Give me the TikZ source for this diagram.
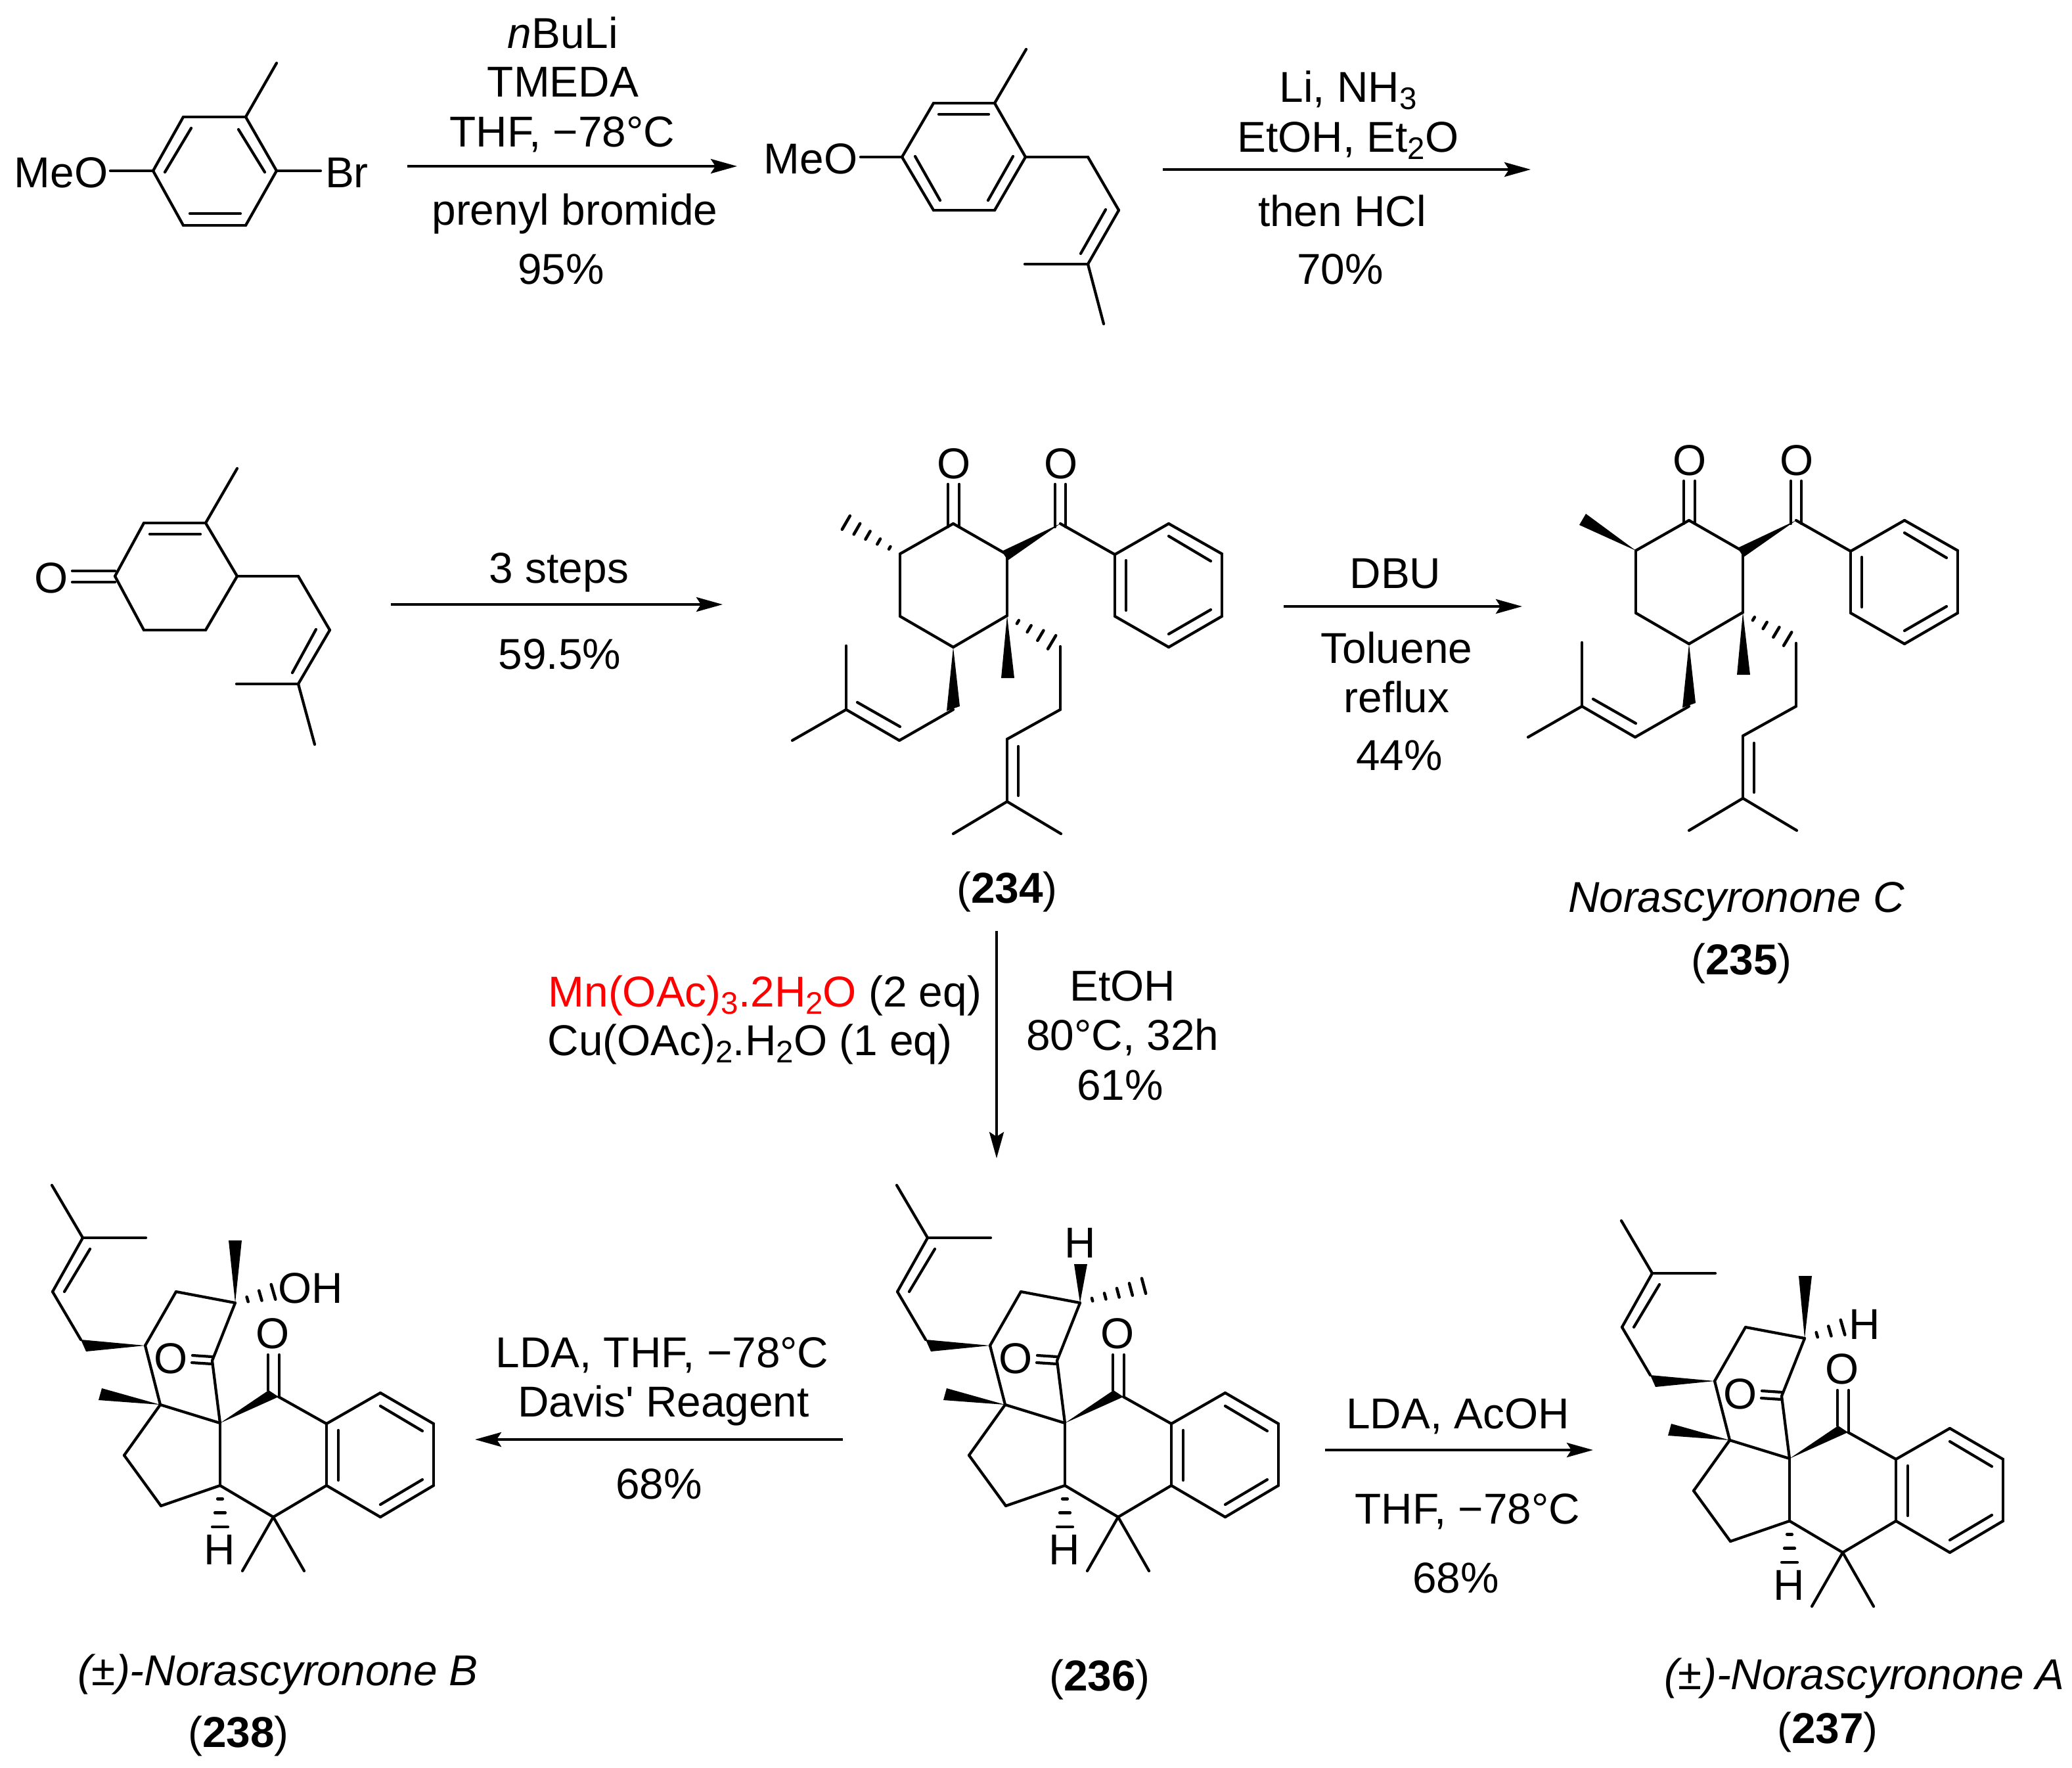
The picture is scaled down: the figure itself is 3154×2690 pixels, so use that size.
\documentclass[tikz,border=0pt]{standalone}
\usepackage{fontspec}
\setmainfont{Liberation Sans}
\newfontfamily\plainfont{Liberation Sans}
\usetikzlibrary{arrows.meta,calc}

\tikzset{
  mytext/.style={anchor=base,inner sep=0pt,font=\fontsize{18.7}{22}\selectfont},
  mybond/.style={line width=1.2pt,line cap=round},
  mybar/.style={line width=1.3pt,line cap=round},
  myarrow/.style={line width=1.15pt,-{Stealth[length=0.4cm,width=0.22cm,inset=0.07cm]}}
}
\newcommand{\subs}[1]{\raisebox{-0.32ex}{\fontsize{13.5}{13.5}\selectfont #1}}
\newcommand{\atoms}[1]{\foreach \nm/\pos in {#1} {\coordinate (\nm) at (\pos);}}
\newcommand{\bonds}[1]{\foreach \from/\to in {#1} {\draw[mybond] (\from) -- (\to);}}
\newcommand{\solidwedge}[3]{\fill (#1) -- (#2) -- (#3) -- cycle;}
\newcommand{\hashbond}[3]{\foreach \i in {1,...,#3} {
    \pgfmathsetmacro{\hpos}{(\i-0.05)/#3}
    \pgfmathsetmacro{\hw}{0.12*\hpos}
    \draw[mybar] ($(#1)!\hpos!(#2)!\hw cm!90:(#2)$) -- ($(#1)!\hpos!(#2)!\hw cm!-90:(#2)$);}}

\newcommand{\benzoylring}[1]{
  \atoms{c1/{1451,797},c2/{1533,844},c3/{1533,937},c4/{1451,985},c5/{1370,938},c6/{1370,843},
    co/{1614,797},p1/{1697,844},p2/{1779,797},p3/{1860,843},p4/{1860,938},p5/{1779,985},p6/{1697,938},
    oa/{1443,737},ob/{1443,802},oc/{1460,737},od/{1460,802},
    oe/{1606,737},of/{1606,802},og/{1622,737},oh/{1622,802},
    pa/{1779,816},pb/{1843,854},pc/{1714,853},pd/{1714,929},pe/{1779,965},pf/{1843,928},
    wa/{1525,839},wb/{1534,853},wc/{1524,1032},wd/{1544,1032},we/{1441,1082},wf/{1461,1075},
    d1/{1451,1080},d2/{1369,1127},d3/{1288,1080},d4/{1288,983},d5/{1206,1127},da/{1370,1106},db/{1305,1069},
    e0/{1614,984},e1/{1614,1080},e2/{1533,1125},e3/{1533,1220},e4/{1451,1269},e5/{1615,1269},ea/{1550,1136},eb/{1550,1211},
    hc/{1602,978}}
  \bonds{c1/c2,c2/c3,c3/c4,c4/c5,c5/c6,c6/c1,co/p1,p1/p2,p2/p3,p3/p4,p4/p5,p5/p6,p6/p1,
    oa/ob,oc/od,oe/of,og/oh,pa/pb,pc/pd,pe/pf,
    d1/d2,d2/d3,d3/d4,d3/d5,da/db,e0/e1,e1/e2,e2/e3,e3/e4,e3/e5,ea/eb}
  \solidwedge{co}{wa}{wb}
  \solidwedge{c3}{wc}{wd}
  \solidwedge{c4}{we}{wf}
  \hashbond{c3}{hc}{4}
  \node[mytext] (#1oa) at (1452,728) {O};
  \node[mytext] (#1ob) at (1615,728) {O};
}

\newcommand{\spirocore}[1]{
  \atoms{ma/{1365,1804},mb/{1412,1884},mc/{1508,1884},md/{1366,1966},me/{1409,2039},
    ia/{1423,1901},ib/{1384,1966},
    a/{1507,2048},b/{1554,1966},c/{1644,1983},d/{1609,2071},s/{1621,2166},f/{1530,2138},
    g/{1475,2215},h/{1531,2292},i/{1621,2261},k/{1710,2126},l/{1783,2167},m/{1783,2261},n/{1702,2309},
    na/{1655,2391},nb/{1749,2391},
    q1/{1865,2120},q2/{1946,2167},q3/{1946,2261},q4/{1865,2309},
    qa/{1801,2177},qb/{1801,2253},qc/{1865,2140},qd/{1929,2178},qe/{1865,2290},qf/{1929,2252},
    oa/{1579,2063},ob/{1609,2065},oc/{1578,2074},od/{1609,2076},
    oe/{1694,2062},of/{1694,2116},og/{1711,2062},oh/{1711,2126},
    wa/{1417,2057},wb/{1441,2113},wc/{1436,2131},wd/{1695,2116},hi/{1621,2325}}
  \bonds{ma/mb,mb/mc,mb/md,md/me,ia/ib,a/b,b/c,c/d,d/s,f/s,a/f,f/g,g/h,h/i,i/s,
    k/l,l/m,m/n,n/i,n/na,n/nb,l/q1,q1/q2,q2/q3,q3/q4,q4/m,qa/qb,qc/qd,qe/qf,oa/ob,oc/od,oe/of,og/oh}
  \solidwedge{a}{me}{wa}
  \solidwedge{f}{wb}{wc}
  \solidwedge{s}{wd}{k}
  \hashbond{i}{hi}{3}
  \node[mytext] (#1oa) at (1546,2090) {O};
  \node[mytext] (#1ob) at (1701,2052) {O};
  \node[mytext] (#1h) at (1620,2381) {H};
}

\begin{document}
\begin{tikzpicture}[x=0.01cm,y=-0.01cm]
\useasboundingbox (0,0) rectangle (3154,2690);

\atoms{b1/{233,260},b2/{279,178},b3/{374,178},b4/{421,260},b5/{374,343},b6/{279,343},
  b7/{421,96},b8/{168,260},b9/{488,260},
  ba/{251,262},bb/{291,195},bc/{363,197},bd/{403,262},be/{289,325},bf/{366,325}}
\bonds{b1/b2,b2/b3,b3/b4,b4/b5,b5/b6,b6/b1,b3/b7,b1/b8,b4/b9,ba/bb,bc/bd,be/bf}
\node[mytext] (meo1) at (93,285) {MeO};
\node[mytext] (br1) at (528,285) {Br};

\atoms{t1/{1373,239},t2/{1421,157},t3/{1514,157},t4/{1561,239},t5/{1514,320},t6/{1421,320},
  t7/{1562,75},t8/{1310,239},t9/{1656,239},t10/{1703,320},t11/{1656,402},t12/{1560,402},t13/{1680,493},
  ta/{1429,174},tb/{1505,174},tc/{1393,238},td/{1431,305},te/{1542,238},tf/{1504,305},tg/{1683,319},th/{1645,386}}
\bonds{t1/t2,t2/t3,t3/t4,t4/t5,t5/t6,t6/t1,t3/t7,t1/t8,t4/t9,t9/t10,t10/t11,t11/t12,t11/t13,ta/tb,tc/td,te/tf,tg/th}
\node[mytext] (meo2) at (1234,264) {MeO};

\atoms{u1/{175,877},u2/{219,796},u3/{313,796},u4/{361,877},u5/{313,959},u6/{219,959},
  u7/{361,713},u8/{454,877},u9/{502,959},u10/{454,1041},u11/{360,1041},u12/{479,1133},
  ua/{228,813},ub/{305,813},uc/{481,958},ud/{445,1024},ue/{110,869},uf/{175,869},ug/{110,886},uh/{175,886}}
\bonds{u1/u2,u2/u3,u3/u4,u4/u5,u5/u6,u6/u1,u3/u7,u4/u8,u8/u9,u9/u10,u10/u11,u10/u12,ua/ub,uc/ud,ue/uf,ug/uh}
\node[mytext] (oxo3) at (78,902) {O};

\benzoylring{x}
\coordinate (mx) at (1287,795);
\hashbond{c6}{mx}{5}

\begin{scope}[shift={(1120,-5)}]
\benzoylring{y}
\coordinate (ya) at (1294,787);
\coordinate (yb) at (1284,804);
\solidwedge{c6}{ya}{yb}
\end{scope}

\begin{scope}
\spirocore{p}
\coordinate (pa) at (1635,1924);
\coordinate (pb) at (1655,1924);
\coordinate (pc) at (1742,1957);
\solidwedge{c}{pa}{pb}
\hashbond{c}{pc}{5}
\node[mytext] (ph) at (1644,1914) {H};
\end{scope}

\begin{scope}[shift={(-1286,0)}]
\spirocore{r}
\coordinate (ra) at (1634,1888);
\coordinate (rb) at (1654,1888);
\coordinate (rc) at (1703,1966);
\solidwedge{c}{ra}{rb}
\hashbond{c}{rc}{3}
\node[mytext,anchor=base west] (roh) at (1709,1983) {OH};
\end{scope}

\begin{scope}[shift={(1103,54)}]
\spirocore{v}
\coordinate (va) at (1635,1888);
\coordinate (vb) at (1655,1888);
\coordinate (vc) at (1703,1966);
\solidwedge{c}{va}{vb}
\hashbond{c}{vc}{3}
\node[mytext] (vh) at (1735,1984) {H};
\end{scope}

\foreach \nm/\x/\y/\txt in {
  bu/857/73/{\textit{n}BuLi},tm/857/147/TMEDA,th/856/223/{THF, −78°C},
  pr/875/342/prenyl bromide,ya/854/432/95\%,
  li/2052/155/{Li, NH\subs{3}},et/2052/231/{EtOH, Et\subs{2}O},hc/2043/344/then HCl,yb/2040/432/70\%,
  st/851/887/3 steps,yc/852/1018/59.5\%,
  db/2124/895/DBU,tl/2126/1009/Toluene,rf/2126/1084/reflux,yd/2130/1172/44\%,
  na/1533/1374/{(\textbf{234})},nb/2651/1483/{(\textbf{235})},
  lc/2643/1388/{\textit{Norascyronone C}},
  eh/1709/1523/EtOH,tm2/1709/1598/{80°C, 32h},ye/1705/1674/61\%,
  ld/1008/2081/{LDA, THF, −78°C},dv/1010/2156/Davis{\plainfont '} Reagent,yf/1003/2281/68\%,
  la/2219/2174/{LDA, AcOH},tf/2234/2319/{THF, −78°C},yg/2216/2424/68\%,
  lb/423/2565/{\textit{(±)-Norascyronone B}},nc/363/2659/{(\textbf{238})},
  nd/1674/2573/{(\textbf{236})},
  le/2838/2571/{\textit{(±)-Norascyronone A}},ne/2782/2653/{(\textbf{237})}}
  {\node[mytext] (\nm) at (\x,\y) {\txt};}

\node[mytext,anchor=base west] (mn) at (834,1532) {\textcolor{red}{Mn(OAc)\subs{3}.2H\subs{2}O} (2 eq)};
\node[mytext,anchor=base west] (cu) at (833,1606) {Cu(OAc)\subs{2}.H\subs{2}O (1 eq)};

\atoms{r1/{620,253},r2/{1122,253},r3/{1770,258},r4/{2330,258},r5/{595,920},r6/{1100,920},
  r7/{1954,923},r8/{2317,923},r9/{1517,1417},r10/{1517,1763},r11/{1283,2191},r12/{723,2191},
  r13/{2017,2207},r14/{2425,2207}}
\foreach \from/\to in {r1/r2,r3/r4,r5/r6,r7/r8,r9/r10,r11/r12,r13/r14}
  {\draw[myarrow] (\from) -- (\to);}
\end{tikzpicture}
\end{document}
